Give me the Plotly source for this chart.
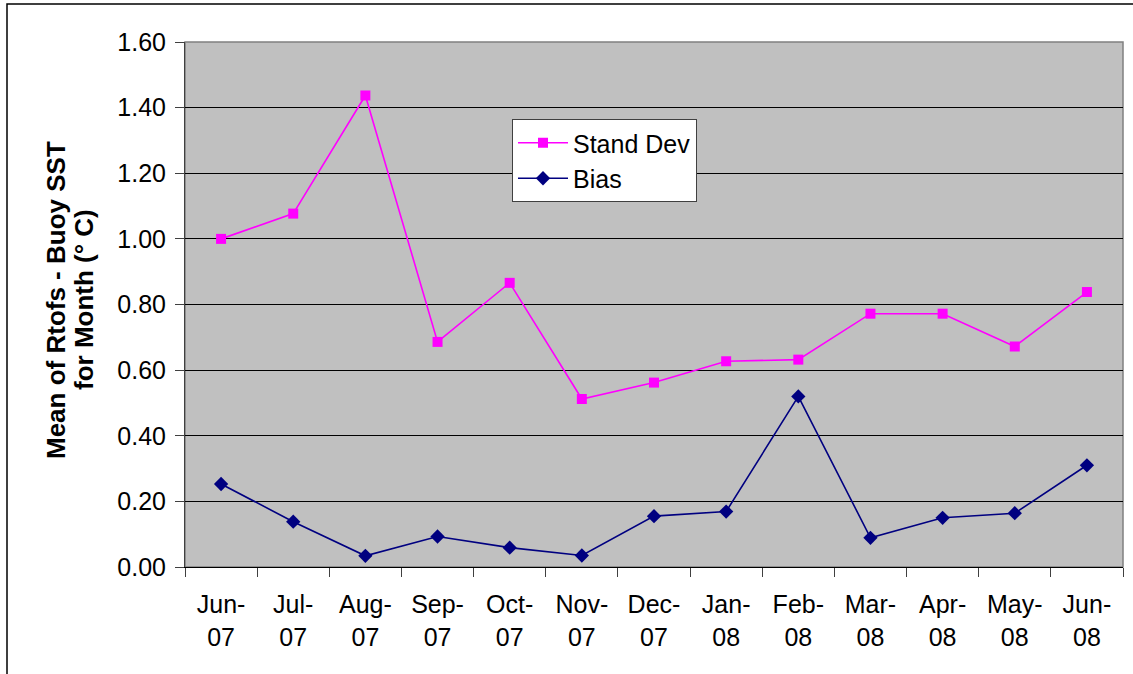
import plotly.graph_objects as go


# ---------------------------------------------------
# Data
# ---------------------------------------------------

months = ["Jun-<br>07", "Jul-<br>07", "Aug-<br>07", "Sep-<br>07", "Oct-<br>07",
          "Nov-<br>07", "Dec-<br>07", "Jan-<br>08", "Feb-<br>08", "Mar-<br>08",
          "Apr-<br>08", "May-<br>08", "Jun-<br>08"]

stand_dev = [1.00, 1.077, 1.437, 0.686, 0.866, 0.512, 0.562, 0.627,
             0.632, 0.772, 0.772, 0.672, 0.838]

bias = [0.253, 0.138, 0.034, 0.093, 0.059, 0.035, 0.155, 0.169,
        0.520, 0.089, 0.150, 0.164, 0.310]

y_ticks = [0.0, 0.2, 0.4, 0.6, 0.8, 1.0, 1.2, 1.4, 1.6]

title_lines = ["Mean of Rtofs - Buoy SST", "for Month (° C)"]


# ---------------------------------------------------
# Figure
# ---------------------------------------------------

font = "Arial, Liberation Sans, sans-serif"
W, H = 1133, 674
L, R, T, B = 185, 10, 42, 107

fig = go.Figure()

fig.add_trace(go.Scatter(
    x=months,
    y=stand_dev,
    name="Stand Dev",
    mode="lines+markers",
    line=dict(color="#FF00FF", width=1.6),
    marker=dict(symbol="square", size=10, color="#FF00FF")
))

fig.add_trace(go.Scatter(
    x=months,
    y=bias,
    name="Bias",
    mode="lines+markers",
    line=dict(color="#000080", width=1.6),
    marker=dict(symbol="diamond", size=11, color="#000080")
))

fig.update_layout(
    width=W,
    height=H,
    margin=dict(l=L, r=R, t=T, b=B),
    paper_bgcolor="white",
    plot_bgcolor="#C0C0C0",
    font=dict(family=font, size=25, color="black"),
    showlegend=True,
    legend=dict(
        x=(512 - L) / (W - L - R), y=(H - B - 119) / (H - T - B),
        xanchor="left", yanchor="top",
        bgcolor="white",
        bordercolor="#404040",
        borderwidth=1,
        font=dict(family=font, size=25),
        tracegroupgap=0,
        itemwidth=50
    ),
    xaxis=dict(
        type="category",
        range=[-0.5, 12.5],
        tickson="boundaries",
        ticks="outside",
        ticklen=9,
        tickcolor="#404040",
        showgrid=False,
        showline=True,
        linecolor="black",
        linewidth=1,
        automargin=False,
        ticklabelstandoff=15,
        tickfont=dict(family=font, size=25)
    ),
    yaxis=dict(
        range=[0, 1.6],
        tickvals=y_ticks,
        tickformat=".2f",
        ticks="outside",
        ticklen=9,
        tickcolor="#404040",
        showgrid=True,
        gridcolor="black",
        gridwidth=1,
        showline=True,
        linecolor="#404040",
        linewidth=1,
        zeroline=False,
        automargin=False,
        ticklabelstandoff=4,
        tickfont=dict(family=font, size=25)
    ),
    shapes=[
        # outer chart frame
        dict(type="rect", xref="paper", yref="paper",
             x0=(7 - L) / (W - L - R), x1=(W + 20 - L) / (W - L - R),
             y0=(H - B - H - 20) / (H - T - B), y1=(H - B - 4) / (H - T - B),
             line=dict(color="black", width=1.5),
             fillcolor="rgba(0,0,0,0)", layer="below"),
        # plot area border
        dict(type="rect", xref="paper", yref="paper",
             x0=0, x1=1, y0=0, y1=1,
             line=dict(color="#808080", width=1.5),
             fillcolor="rgba(0,0,0,0)", layer="below"),
    ]
)

# two-line bold axis title, placed line by line
for xpos, line in zip([56, 84], title_lines):
    fig.add_annotation(
        text="<b>" + line + "</b>",
        xref="paper", yref="paper",
        x=(xpos - L) / (W - L - R), y=(H - B - 300) / (H - T - B),
        xanchor="center", yanchor="middle",
        textangle=-90,
        showarrow=False,
        font=dict(family=font, size=26, color="black")
    )

fig.write_html(
    "out.html",
    config={"displayModeBar": False},
    post_script="document.body.style.margin='0';"
)
